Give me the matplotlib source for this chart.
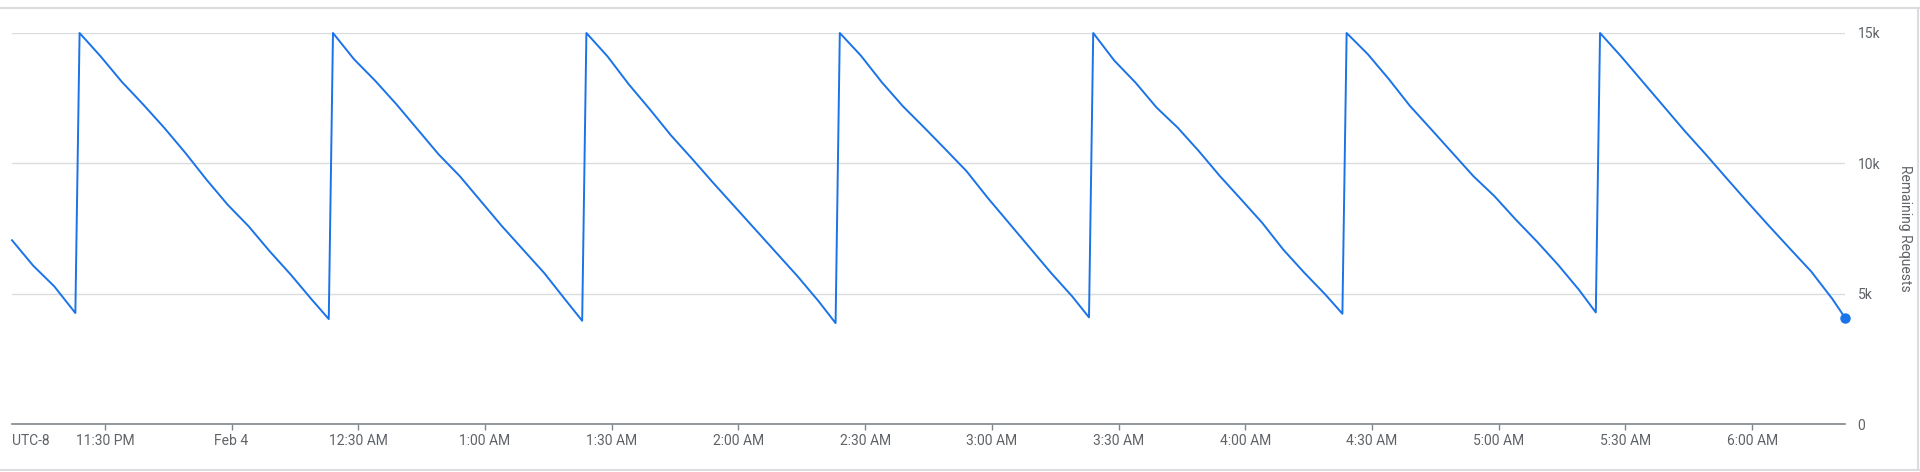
import matplotlib.pyplot as plt
import matplotlib.dates as mdates
from matplotlib.lines import Line2D
from matplotlib.ticker import FuncFormatter
import pandas as pd

plt.rcParams['font.family'] = ['Roboto', 'DejaVu Sans']

# sampled readings of the quota counter (local time, UTC-8)
times = [
    "23:08", "23:13", "23:18", "23:23",
    "23:24", "23:29", "23:34", "23:39", "23:44", "23:49", "23:54", "23:59",
    "00:04", "00:09", "00:14", "00:19", "00:23",
    "00:24", "00:29", "00:34", "00:39", "00:44", "00:49", "00:54", "00:59",
    "01:04", "01:09", "01:14", "01:19", "01:23",
    "01:24", "01:29", "01:34", "01:39", "01:44", "01:49", "01:54", "01:59",
    "02:04", "02:09", "02:14", "02:19", "02:23",
    "02:24", "02:29", "02:34", "02:39", "02:44", "02:49", "02:54", "02:59",
    "03:04", "03:09", "03:14", "03:19", "03:23",
    "03:24", "03:29", "03:34", "03:39", "03:44", "03:49", "03:54", "03:59",
    "04:04", "04:09", "04:14", "04:19", "04:23",
    "04:24", "04:29", "04:34", "04:39", "04:44", "04:49", "04:54", "04:59",
    "05:04", "05:09", "05:14", "05:19", "05:23",
    "05:24", "05:29", "05:34", "05:39", "05:44", "05:49", "05:54", "05:59",
    "06:04", "06:09", "06:14", "06:19", "06:22",
]
remaining = [
    7050, 6077, 5282, 4258,
    15000, 14100, 13128, 12269, 11372, 10410, 9385, 8423,
    7590, 6628, 5731, 4769, 4026,
    15000, 13990, 13167, 12269, 11308, 10346, 9513, 8551,
    7590, 6692, 5795, 4769, 3960,
    15000, 14103, 13038, 12077, 11077, 10179, 9256, 8359,
    7462, 6564, 5667, 4705, 3870,
    15000, 14130, 13100, 12180, 11370, 10540, 9700, 8680,
    7720, 6760, 5800, 4900, 4090,
    15000, 13940, 13100, 12140, 11370, 10470, 9510, 8620,
    7720, 6690, 5800, 4960, 4230,
    15000, 14190, 13230, 12200, 11310, 10410, 9510, 8740,
    7850, 7010, 6120, 5150, 4280,
    15000, 14100, 13150, 12200, 11250, 10350, 9420, 8500,
    7600, 6720, 5850, 4800, 4077,
]
y_ticks = [0, 5000, 10000, 15000]

stamps = [pd.Timestamp(("2025-02-03 " if t.startswith("23") else "2025-02-04 ") + t)
          for t in times]

blue = '#1a73e8'
grey_txt = '#5f6368'
W, H = 1920, 472

fig = plt.figure(figsize=(W / 100, H / 100), dpi=100)
ax = fig.add_axes([12 / W, 48 / H, 1833 / W, 391 / H])

ax.plot(stamps, remaining, color=blue, lw=1.4, clip_on=False, zorder=3)
ax.plot(stamps[-1], remaining[-1], 'o', ms=6.5, color=blue, clip_on=False, zorder=4)

ax.set_xlim(stamps[0], stamps[-1])
ax.set_ylim(0, 15000)

ax.set_yticks(y_ticks)
ax.yaxis.tick_right()
ax.yaxis.set_major_formatter(FuncFormatter(lambda v, p: "0" if v == 0 else f"{v / 1000:g}k"))
ax.grid(axis='y', color='#dadce0', lw=1)
ax.set_axisbelow(True)

def time_label(v, pos):
    d = mdates.num2date(v)
    if d.hour == 0 and d.minute == 0:
        return "Feb 4"
    h = d.hour % 12 or 12
    return f"{h}:{d.minute:02d}\u2009{'AM' if d.hour < 12 else 'PM'}".replace("\u2009", " ")

ax.xaxis.set_major_locator(mdates.MinuteLocator(byminute=[0, 30]))
ax.xaxis.set_major_formatter(FuncFormatter(time_label))

ax.tick_params(axis='x', length=4.5, width=1, color='#80868b', pad=3,
               labelsize=10, labelcolor=grey_txt)
ax.tick_params(axis='y', length=0, pad=9, labelsize=10, labelcolor=grey_txt)

for s in ['top', 'left', 'right']:
    ax.spines[s].set_visible(False)
ax.spines['bottom'].set_color('#80868b')
ax.spines['bottom'].set_linewidth(1.2)
ax.spines['bottom'].set_zorder(2.5)

fig.text(12 / W, 1 - 441 / H, "UTC-8", ha='left', va='center', fontsize=10, color=grey_txt)
fig.text(1905 / W, 1 - 228 / H, "Remaining Requests", rotation=270,
         ha='center', va='center', fontsize=10, color=grey_txt)

# card outline
border = '#dadce0'
fig.add_artist(Line2D([0, 1], [1 - 8 / H] * 2, color=border, lw=1.5))
fig.add_artist(Line2D([0, 1], [1 - 470 / H] * 2, color=border, lw=1.5))
fig.add_artist(Line2D([1918 / W] * 2, [1 - 470 / H, 1 - 8 / H], color=border, lw=1.5))

fig.savefig("out.png", dpi=100)
